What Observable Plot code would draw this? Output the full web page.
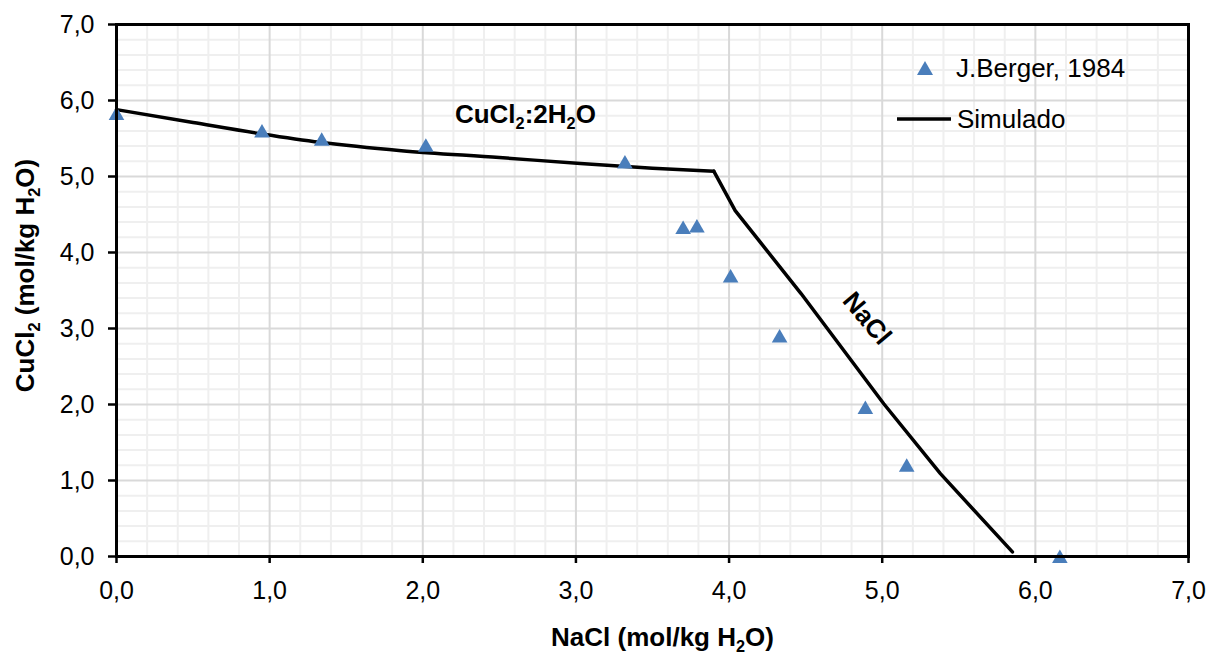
<!DOCTYPE html>
<html>
<head>
<meta charset="utf-8">
<script src="https://cdn.jsdelivr.net/npm/d3@7"></script>
<script src="https://cdn.jsdelivr.net/npm/@observablehq/plot@0.6"></script>
<style>
  html, body { margin: 0; padding: 0; background: #fff; }
  #wrap { position: relative; width: 1214px; height: 654px; font-family: "Liberation Sans", Arial, sans-serif; }
  .leg { position: absolute; font-size: 26px; color: #000; line-height: 1; white-space: nowrap; }
  g[aria-label="x-axis tick label"] text, g[aria-label="y-axis tick label"] text { font-size: 25px; }
</style>
</head>
<body>
<div id="wrap"></div>
<script>
// ---- data ----
const bergerNaCl  = [0.00, 0.95, 1.34, 2.02, 3.32, 3.70, 3.79, 4.01, 4.33, 4.89, 5.16, 6.16];
const bergerCuCl2 = [5.83, 5.60, 5.49, 5.41, 5.19, 4.33, 4.35, 3.69, 2.90, 1.96, 1.20, 0.00];

// simulated curve: CuCl2·2H2O branch (smooth) and NaCl branch
const simUpperNaCl  = [0.00, 0.50, 0.95, 1.33, 1.86, 2.50, 3.03, 3.50, 3.90];
const simUpperCuCl2 = [5.88, 5.71, 5.56, 5.45, 5.34, 5.25, 5.17, 5.11, 5.07];
const simLowerNaCl  = [3.90, 4.04, 4.47, 5.01, 5.38, 5.85];
const simLowerCuCl2 = [5.07, 4.55, 3.46, 2.01, 1.09, 0.06];

const majorTicks = [0, 1, 2, 3, 4, 5, 6, 7];
const minorTicks = d3.range(0, 7.0001, 0.2).map(v => +v.toFixed(1)).filter(v => !Number.isInteger(v));

const seriesNames = ["J.Berger, 1984", "Simulado"];
const xTitle = "NaCl (mol/kg H₂O)";
const yTitle = "CuCl₂ (mol/kg H₂O)";
const annoText = ["CuCl₂:2H₂O", "NaCl"];
const annoX = [2.67, 4.90];
const annoY = [5.82, 3.13];
const annoRotate = [0, 50];

// ---- tables ----
const berger = bergerNaCl.map((x, i) => ({x, y: bergerCuCl2[i]}));
const simUpper = simUpperNaCl.map((x, i) => ({x, y: simUpperCuCl2[i]}));
const simLower = simLowerNaCl.map((x, i) => ({x, y: simLowerCuCl2[i]}));
const annos = annoText.map((t, i) => ({t, x: annoX[i], y: annoY[i], r: annoRotate[i]}));

const fmt = d => d.toFixed(1).replace(".", ",");

const plot = Plot.plot({
  width: 1214,
  height: 654,
  marginLeft: 116,
  marginRight: 26,
  marginTop: 24,
  marginBottom: 98,
  style: {fontFamily: "'Liberation Sans', Arial, sans-serif", background: "#fff", color: "#000"},
  x: {domain: [0, 7]},
  y: {domain: [0, 7]},
  marks: [
    Plot.gridX(minorTicks, {stroke: "#efefef", strokeOpacity: 1, strokeWidth: 2}),
    Plot.gridY(minorTicks, {stroke: "#efefef", strokeOpacity: 1, strokeWidth: 2}),
    Plot.gridX(majorTicks, {stroke: "#d9d9d9", strokeOpacity: 1, strokeWidth: 2}),
    Plot.gridY(majorTicks, {stroke: "#d9d9d9", strokeOpacity: 1, strokeWidth: 2}),
    Plot.axisX(majorTicks, {tickFormat: fmt, tickSize: 7, tickPadding: 18, fontSize: 25, strokeWidth: 2.5, label: null}),
    Plot.axisY(majorTicks, {tickFormat: fmt, tickSize: 8, tickPadding: 14, fontSize: 25, strokeWidth: 2.5, label: null}),
    Plot.line(simUpper, {x: "x", y: "y", stroke: "#000", strokeWidth: 3.5, curve: "monotone-x"}),
    Plot.line(simLower, {x: "x", y: "y", stroke: "#000", strokeWidth: 3.5, strokeLinejoin: "round"}),
    Plot.dot(berger, {x: "x", y: "y", symbol: "triangle", r: 5.8, fill: "#4a7ebb", stroke: "none", dy: 2}),
    Plot.text(annos, {x: "x", y: "y", text: "t", rotate: "r", fontSize: 26, fontWeight: "bold", fill: "#000", textAnchor: "middle", lineAnchor: "middle"}),
    Plot.text([xTitle], {frameAnchor: "bottom", text: d => d, dx: 10, dy: 81, fontSize: 26, fontWeight: "bold", fill: "#000", textAnchor: "middle", lineAnchor: "middle"}),
    Plot.text([yTitle], {frameAnchor: "left", text: d => d, dx: -91, dy: -15, rotate: -90, fontSize: 26, fontWeight: "bold", fill: "#000", textAnchor: "middle", lineAnchor: "middle"}),
    Plot.frame({stroke: "#000", strokeWidth: 3})
  ]
});

// subscript handling for ₂
plot.querySelectorAll("text").forEach(t => {
  const s = t.textContent;
  if (!s.includes("₂")) return;
  const fs = parseFloat(t.getAttribute("font-size") || getComputedStyle(t).fontSize) || 24;
  const parts = s.split("₂");
  while (t.firstChild) t.removeChild(t.firstChild);
  const ns = "http://www.w3.org/2000/svg";
  parts.forEach((p, i) => {
    if (p.length || i > 0) {
      const ts = document.createElementNS(ns, "tspan");
      ts.textContent = p.length ? p : "\u200b";
      if (i > 0) ts.setAttribute("dy", (-0.25 * fs).toFixed(2));
      t.appendChild(ts);
    }
    if (i < parts.length - 1) {
      const sub = document.createElementNS(ns, "tspan");
      sub.textContent = "2";
      sub.setAttribute("font-size", (0.68 * fs).toFixed(1));
      sub.setAttribute("dy", (0.25 * fs).toFixed(2));
      t.appendChild(sub);
    }
  });
});

const wrap = document.getElementById("wrap");
wrap.appendChild(plot);

// legend (overlay)
const leg1 = document.createElement("div");
leg1.className = "leg";
leg1.style.left = "916px"; leg1.style.top = "55px";
leg1.innerHTML = `<svg width="18" height="16" style="vertical-align:middle;position:relative;top:-2px"><path d="M9,1 L17,15 L1,15 Z" fill="#4a7ebb"/></svg><span style="margin-left:22px">${seriesNames[0]}</span>`;
wrap.appendChild(leg1);

const leg2 = document.createElement("div");
leg2.className = "leg";
leg2.style.left = "897px"; leg2.style.top = "106px";
leg2.innerHTML = `<svg width="54" height="8" style="vertical-align:middle;position:relative;top:-2px"><line x1="0" x2="54" y1="4" y2="4" stroke="#000" stroke-width="3.5"/></svg><span style="margin-left:6px">${seriesNames[1]}</span>`;
wrap.appendChild(leg2);
</script>
</body>
</html>
